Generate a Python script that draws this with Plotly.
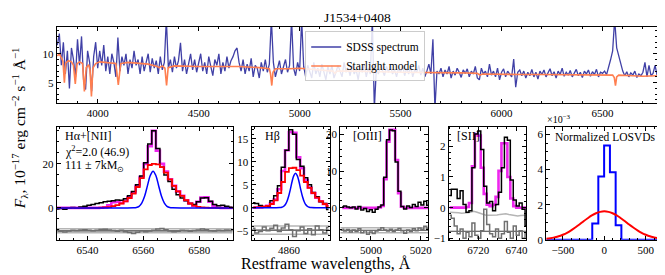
import plotly.graph_objects as go

W, H = 665, 275
FONT = "Liberation Serif"

# ---------------- data: top panel ----------------
spec_wave = list(range(3800, 6780, 10))
spec_flux = (
    [11.5, 13.5, 8.0, 12.0, 6.5, 10.5, 4.0, 11.0, 9.0, 6.0]
    + [12.5, 8.0, 13.0, 5.5, 3.8, 10.5, 8.5, 3.5, 9.5, 12.0]
    + [7.5, 10.5, 8.0, 11.5, 7.0, 9.5, 6.5, 10.0, 8.5, 6.0]
    + [12.8, 7.0, 9.5, 8.0, 10.0, 6.5, 9.0, 7.5, 10.5, 8.0]
    + [9.0, 6.5, 9.5, 7.0, 8.5, 10.0, 6.8, 9.2, 7.5, 8.8]
    + [6.5, 9.5, 7.2, 8.5, 16.0, 7.5, 9.0, 6.8, 9.5, 7.5]
    + [8.8, 11.9, 7.0, 9.0, 6.5, 8.5, 10.0, 7.2, 9.0, 6.8]
    + [8.5, 10.0, 7.0, 8.5, 6.5, 9.5, 7.8, 6.2, 9.0, 8.0]
    + [10.0, 6.5, 8.5, 7.0, 9.5, 7.5, 8.8, 9.5, 10.5, 11.0]
    + [8.5, 7.0, 9.0, 6.5, 8.2, 7.0, 9.2, 6.0, 8.0, 7.5]
    + [5.8, 8.5, 7.0, 9.0, 6.8, 8.2, 16.0, 8.5, 6.0, 7.5]
    + [8.8, 6.5, 7.8, 9.0, 6.8, 8.0, 16.0, 7.5, 6.2, 8.5]
    + [7.0, 16.0, 7.8, 6.0, 8.0, 7.0, 5.8, 8.5, 6.5, 7.5]
    + [6.0, 8.2, 7.0, 5.5, 7.8, 6.5, 8.0, 5.8, 6.8, 8.0]
    + [7.0, 6.0, 8.5, 6.8, 7.5, 6.2, 8.0, 6.5, 7.2, 5.5]
    + [7.8, 6.8, 8.2, 6.0, 7.5, 6.5, 16.0, 0.5, 7.5, 6.5]
    + [8.0, 7.0, 6.2, 7.8, 6.8, 8.0, 6.5, 7.2, 6.0, 7.5]
    + [6.8, 8.0, 6.2, 7.5, 6.5, 7.8, 6.0, 7.2, 6.8, 8.0]
    + [6.3, 7.5, 6.0, 7.0, 8.2, 6.5, 12.5, 0.5, 7.0, 6.5]
    + [7.5, 6.0, 7.2, 6.5, 7.8, 5.8, 7.0, 6.3, 7.5, 6.8]
    + [5.9, 7.2, 6.6, 7.4, 6.0, 7.0, 6.5, 7.8, 5.8, 5.5]
    + [7.5, 6.5, 7.0, 6.0, 8.2, 6.3, 7.0, 6.0, 7.5, 5.5]
    + [6.8, 7.4, 6.0, 7.0, 6.5, 6.0, 9.1, 4.2, 6.8, 7.2]
    + [6.2, 7.0, 5.8, 6.8, 6.2, 7.3, 6.0, 6.8, 5.6, 7.0]
    + [6.4, 7.2, 6.0, 6.6, 7.4, 6.2, 6.9, 5.8, 7.0, 6.4]
    + [7.5, 6.1, 6.8, 6.3, 7.1, 6.0, 6.7, 7.3, 6.2, 6.8]
    + [5.9, 7.0, 6.5, 7.2, 6.1, 6.9, 6.4, 7.3, 6.0, 6.8]
    + [6.6, 7.0, 6.4, 8.0, 9.0, 10.5, 16.0, 11.0, 9.5, 8.0]
    + [7.0, 6.2, 6.9, 6.0, 6.7, 6.3, 7.0, 5.9, 6.5, 6.2]
    + [6.8, 8.5, 6.0, 8.0, 6.2, 6.6, 8.0, 6.3]
)
model_wave = [3800, 3810, 3820, 3828, 3835, 3842, 3855, 3870, 3880, 3889,
              3898, 3910, 3925, 3934, 3943, 3955, 3962, 3969, 3976, 3990,
              4010, 4050, 4090, 4102, 4114, 4150, 4200, 4250, 4295, 4305,
              4320, 4333, 4341, 4349, 4380, 4450, 4500, 4600, 4700, 4800,
              4850, 4856, 4862, 4868, 4880, 4950, 5000, 5100, 5165, 5175,
              5185, 5270, 5300, 5400, 5500, 5600, 5700, 5800, 5880, 5893,
              5905, 6000, 6100, 6200, 6300, 6400, 6500, 6550, 6558, 6564,
              6570, 6580, 6650, 6700, 6770]
model_flux = [9.6, 10.0, 9.3, 8.7, 5.0, 8.4, 8.8, 8.6, 8.0, 4.8,
              8.3, 8.6, 8.3, 3.5, 7.6, 8.1, 7.2, 2.6, 7.5, 8.3,
              8.6, 8.5, 8.3, 4.6, 8.3, 8.5, 8.4, 8.2, 7.8, 7.6,
              7.9, 7.5, 4.5, 7.6, 7.9, 7.8, 7.8, 7.8, 7.8, 7.6,
              7.4, 6.5, 4.5, 6.8, 7.4, 7.4, 7.5, 7.2, 7.0, 6.6,
              7.0, 7.0, 7.0, 6.9, 6.8, 6.8, 6.7, 6.7, 6.6, 6.3,
              6.5, 6.4, 6.4, 6.4, 6.4, 6.4, 6.4, 6.3, 5.9, 4.5,
              6.0, 6.3, 6.2, 6.1, 6.2]

# ---------------- data: H-alpha + [NII] ----------------
ha_wave = [6529.0, 6530.5, 6531.9, 6533.4, 6534.8, 6536.2, 6537.7, 6539.1, 6540.6, 6542.0,
           6543.5, 6544.9, 6546.4, 6547.8, 6549.3, 6550.7, 6552.2, 6553.6, 6555.1, 6556.5,
           6558.0, 6559.4, 6560.9, 6562.3, 6563.8, 6565.2, 6566.7, 6568.1, 6569.6, 6571.0,
           6572.5, 6573.9, 6575.4, 6576.8, 6578.3, 6579.7, 6581.2, 6582.6, 6584.1, 6585.5,
           6587.0, 6588.4, 6589.9, 6591.3, 6592.8]
ha_data = [-0.5, -0.3, -0.6, -0.2, 0.2, 0.0, 0.4, 0.8, 1.2, 1.5,
           2.0, 2.4, 2.8, 3.0, 3.2, 3.6, 3.5, 4.2, 5.5, 7.5,
           10.5, 14.5, 20.5, 29.0, 35.0, 27.0, 18.5, 15.0, 12.0, 8.5,
           6.0, 4.5, 3.2, 2.0, 1.5, 2.8, 4.5, 4.6, 3.0, 1.6,
           1.0, 1.2, 0.8, 0.3, 0.0]
ha_total = [0.0, 0.0, 0.0, 0.0, 0.0, 0.0, 0.0, 0.0, 0.0, 0.0,
            0.0, 0.1, 0.3, 1.2, 2.6, 2.8, 2.2, 3.2, 4.8, 7.0,
            10.0, 14.0, 20.0, 28.0, 35.0, 26.0, 20.0, 16.5, 13.0, 10.0,
            7.5, 5.5, 3.5, 2.0, 1.0, 2.8, 4.7, 4.8, 2.8, 0.8,
            0.1, 0.0, 0.0, 0.0, 0.0]
ha_broad = [0.0, 0.0, 0.0, 0.0, 0.0, 0.0, 0.0, 0.0, 0.0, 0.0,
            0.0, 0.1, 0.2, 0.4, 0.8, 1.3, 2.0, 3.0, 4.5, 6.5,
            9.5, 13.5, 17.5, 19.5, 20.0, 19.8, 18.5, 16.0, 13.0, 10.0,
            7.5, 5.5, 3.5, 2.0, 1.0, 0.5, 0.2, 0.1, 0.0, 0.0,
            0.0, 0.0, 0.0, 0.0, 0.0]
ha_comp_wave = [6528, 6556.5, 6557.5, 6558.5, 6559.5, 6560.5, 6561.5, 6562.5, 6563.5,
                6564.5, 6565.5, 6566.5, 6567.5, 6568.5, 6569.5, 6570.5, 6593]
ha_comp = [0.0, 0.04, 0.18, 0.73, 2.3, 5.4, 10.1, 14.7, 16.7,
           14.7, 10.1, 5.4, 2.3, 0.73, 0.18, 0.04, 0.0]
ha_resid = [-10.2, -10.6, -10.9, -10.5, -10.1, -10.3, -10.0, -9.9, -10.2, -10.4,
            -10.1, -9.8, -9.7, -10.0, -10.3, -10.6, -10.2, -10.8, -11.2, -11.6,
            -11.0, -10.4, -10.8, -10.5, -10.2, -9.6, -9.4, -9.9, -10.5, -10.8,
            -10.6, -10.1, -10.3, -10.6, -10.3, -10.0, -9.6, -9.9, -10.4, -10.5,
            -10.2, -10.3, -10.0, -10.1, -10.3]
ha_res_zero, ha_res_sig = -10.4, 0.9

# ---------------- data: H-beta ----------------
hb_wave = [4849.5, 4850.6, 4851.7, 4852.8, 4853.9, 4855.0, 4856.1, 4857.2, 4858.3, 4859.4,
           4860.5, 4861.6, 4862.7, 4863.8, 4864.9, 4866.0, 4867.1, 4868.2, 4869.3, 4870.4,
           4871.5]
hb_data = [1.1, 0.9, 0.5, 0.1, 0.3, 1.5, 2.6, 4.8, 8.8, 12.5,
           17.0, 16.0, 10.5, 9.0, 6.5, 5.0, 3.3, 2.4, 1.3, 0.9, -0.4]
hb_total = [0.0, 0.05, 0.1, 0.2, 0.4, 0.9, 1.8, 4.0, 8.0, 12.5,
            16.5, 16.3, 11.0, 8.6, 6.0, 4.4, 3.2, 2.2, 1.4, 0.8, 0.4]
hb_broad = [0.0, 0.05, 0.1, 0.2, 0.4, 0.8, 1.6, 3.2, 5.6, 7.8,
            8.6, 8.7, 8.2, 7.0, 5.6, 4.3, 3.2, 2.2, 1.4, 0.8, 0.4]
hb_comp_wave = [4849, 4857.4, 4857.9, 4858.4, 4858.9, 4859.4, 4859.9, 4860.4, 4860.9, 4861.4,
                4861.9, 4862.4, 4862.9, 4863.4, 4863.9, 4864.4, 4864.9, 4865.4, 4865.9, 4866.4, 4872]
hb_comp = [0.0, 0.02, 0.09, 0.26, 0.63, 1.35, 2.5, 4.0, 5.7, 7.0,
           7.5, 7.0, 5.7, 4.0, 2.5, 1.35, 0.63, 0.26, 0.09, 0.02, 0.0]
hb_resid = [-4.5, -5.5, -5.2, -4.2, -5.0, -4.5, -3.8, -5.2, -4.4, -3.6,
            -4.8, -6.3, -5.0, -4.2, -5.6, -4.6, -5.9, -4.0, -4.8, -5.5, -4.3]
hb_res_zero, hb_res_sig = -4.9, 0.9

# ---------------- data: [OIII] ----------------
o3_wave = [4988.5, 4989.6, 4990.8, 4991.9, 4993.1, 4994.2, 4995.4, 4996.5, 4997.7, 4998.8,
           5000.0, 5001.1, 5002.3, 5003.4, 5004.6, 5005.7, 5006.9, 5008.0, 5009.2, 5010.3,
           5011.5, 5012.6, 5013.8, 5014.9, 5016.1, 5017.2, 5018.4, 5019.5, 5020.7, 5021.8,
           5023.0]
o3_data = [0.3, 0.5, 0.2, 0.0, 0.2, -0.3, 0.4, -0.6, -0.2, -1.0,
           -0.5, -1.2, -0.4, 0.2, 0.8, 8.3, 18.5, 21.2, 21.0, 12.5,
           4.5, 0.4, -0.3, 0.5, 0.1, 0.9, 0.4, 1.5, 0.8, 1.8, 0.7]
o3_total = [0.0, 0.0, 0.0, 0.0, 0.0, 0.0, 0.0, 0.0, 0.0, 0.0,
            0.0, 0.0, 0.0, 0.1, 0.5, 7.8, 18.0, 21.2, 21.2, 13.0,
            4.0, 0.3, 0.0, 0.0, 0.0, 0.0, 0.0, 0.0, 0.0, 0.0, 0.0]
o3_resid = [-5.8, -6.3, -5.9, -6.6, -6.0, -6.4, -5.7, -6.8, -6.2, -7.2,
            -6.6, -7.0, -6.3, -5.9, -5.4, -6.0, -6.3, -5.8, -6.4, -6.0,
            -5.6, -6.2, -6.9, -6.0, -6.4, -5.7, -6.2, -5.5, -5.8, -5.0, -5.6]
o3_res_zero, o3_res_sig = -6.1, 0.7

# ---------------- data: [SII] ----------------
s2_wave = [6705.0, 6706.55, 6708.1, 6709.65, 6711.2, 6712.75, 6714.3, 6715.85, 6717.4, 6718.95,
           6720.5, 6722.05, 6723.6, 6725.15, 6726.7, 6728.25, 6729.8, 6731.35, 6732.9, 6734.45,
           6736.0, 6737.55, 6739.1, 6740.65, 6742.2, 6743.75, 6745.3]
s2_data = [0.4, 0.6, 0.6, 0.3, 0.55, 0.1, -0.15, -0.1, 1.3, 2.4,
           2.5, 1.9, 0.7, 0.15, 0.2, -0.1, 0.1, 0.5, 1.3, 2.3,
           2.2, 0.9, 0.25, 0.05, 0.15, -0.05, -0.6]
s2_total = [0.0, 0.0, 0.0, 0.0, 0.0, 0.0, 0.02, 0.15, 1.35, 2.4,
            2.35, 1.3, 0.45, 0.1, 0.05, 0.1, 0.35, 1.2, 2.1, 2.1,
            1.0, 0.3, 0.05, 0.0, 0.0, 0.0, 0.0]
s2_resid = [-0.25, -0.35, -0.6, -0.85, -0.7, -1.0, -0.8, -0.95, -0.5, -0.9,
            -1.0, -0.75, -0.05, -0.55, -0.85, -0.95, -0.7, -1.0, -0.85, -0.45,
            -0.8, -1.0, -0.6, -0.9, -0.75, -1.0, -0.85]
s2_sig_upper = [-0.15, -0.15, -0.16, -0.17, -0.18, -0.18, -0.17, -0.15, -0.12, -0.14,
                -0.18, -0.22, -0.24, -0.25, -0.25, -0.25, -0.24, -0.22, -0.2, -0.2,
                -0.22, -0.24, -0.26, -0.27, -0.26, -0.25, -0.25]
s2_res_zero = -0.77

# ---------------- data: LOSVDs ----------------
losvd_edges = [-700, -145, -72, -2, 68, 137, 206, 700]
losvd_hist = [0.0, 0.93e-3, 3.6e-3, 5.36e-3, 3.84e-3, 0.83e-3, 0.0, 0.0]
losvd_v = [-700, -650, -600, -550, -500, -450, -400, -350, -300, -250, -200, -150, -100, -50, 0,
           50, 100, 150, 200, 250, 300, 350, 400, 450, 500, 550, 600, 650, 700]
losvd_gauss = [0.056e-3, 0.09e-3, 0.14e-3, 0.20e-3, 0.29e-3, 0.40e-3, 0.54e-3, 0.70e-3, 0.87e-3,
               1.06e-3, 1.23e-3, 1.39e-3, 1.51e-3, 1.59e-3, 1.62e-3, 1.59e-3, 1.51e-3, 1.39e-3,
               1.23e-3, 1.06e-3, 0.87e-3, 0.70e-3, 0.54e-3, 0.40e-3, 0.29e-3, 0.20e-3, 0.14e-3,
               0.09e-3, 0.056e-3]

# ---------------- layout helpers ----------------
def fx(px):
    return px / W


def fy(py):
    return 1 - py / H


BOT = [fy(237), fy(122)]
panels = {
    1: dict(xd=[fx(49), fx(653)], yd=[fy(97), fy(19)], xr=[3797, 6770], yr=[1.5, 14.7],
            xdt=500, xm=100, ydt=5, ym=1),
    2: dict(xd=[fx(49), fx(226)], yd=BOT, xr=[6529, 6592], yr=[-14.5, 36.6],
            xdt=20, xm=5, ydt=20, ym=5),
    3: dict(xd=[fx(245), fx(323.5)], yd=BOT, xr=[4849.1, 4871.8], yr=[-7, 17.5],
            xdt=20, xm=5, ydt=5, ym=1),
    4: dict(xd=[fx(334.3), fx(422.7)], yd=BOT, xr=[4987.7, 5023], yr=[-8.7, 21.9],
            xdt=20, xm=5, ydt=10, ym=2),
    5: dict(xd=[fx(443.3), fx(521.5)], yd=BOT, xr=[6704.4, 6745.2], yr=[-1.05, 2.62],
            xdt=20, xm=5, ydt=1, ym=0.2),
    6: dict(xd=[fx(541.5), fx(658.3)], yd=BOT, xr=[-700, 700], yr=[0, 0.0064],
            xdt=500, xm=100, ydt=0.002, ym=0.0005),
}

TICK_SIZE = 11
layout = dict(width=W, height=H, margin=dict(l=0, r=0, t=0, b=0),
              paper_bgcolor="white", plot_bgcolor="white",
              font=dict(family=FONT, size=TICK_SIZE, color="black"))


def axis(domain, rng, dtick, mdt, anchor):
    return dict(domain=domain, range=rng, anchor=anchor, showline=True, linecolor="black",
                linewidth=1, mirror="allticks", ticks="inside", ticklen=4, tickwidth=1,
                tickcolor="black", showgrid=False, zeroline=False, dtick=dtick,
                tickfont=dict(family=FONT, size=TICK_SIZE, color="black"),
                minor=dict(ticks="inside", ticklen=2, tickwidth=0.8, tickcolor="black",
                           dtick=mdt, showgrid=False))


for k, p in panels.items():
    s = "" if k == 1 else str(k)
    layout["xaxis" + s] = axis(p["xd"], p["xr"], p["xdt"], p["xm"], "y" + s)
    layout["yaxis" + s] = axis(p["yd"], p["yr"], p["ydt"], p["ym"], "x" + s)

layout["yaxis6"].update(tickmode="array", tickvals=[0, 0.002, 0.004, 0.006],
                        ticktext=["0", "2", "4", "6"])
layout["yaxis6"]["minor"].update(tickmode="linear", tick0=0)

fig = go.Figure()


def add(x, y, k, color, width, shape="hvh", name=None, legend=False):
    s = "" if k == 1 else str(k)
    fig.add_trace(go.Scatter(x=x, y=y, mode="lines", name=name, showlegend=legend,
                             line=dict(color=color, width=width, shape=shape),
                             xaxis="x" + s, yaxis="y" + s, hoverinfo="skip"))


# top panel
add(spec_wave, spec_flux, 1, "rgba(30,30,150,0.85)", 1.3, "linear", "SDSS spectrum", True)
add(model_wave, model_flux, 1, "rgb(255,127,80)", 1.6, "linear", "Starlight model", True)

MAG = "rgba(235,0,235,0.85)"
LG, DG, RG = "#b5b5b5", "#404040", "#707070"


def residual_block(k, wave, resid, zero, sig_up=None, sig=None):
    xr = panels[k]["xr"]
    if sig_up is not None:
        add(wave, sig_up, k, LG, 1.5, "linear")
    else:
        add(xr, [zero + sig, zero + sig], k, LG, 1.5, "linear")
        add(xr, [zero - sig, zero - sig], k, LG, 1.5, "linear")
    add(xr, [zero, zero], k, DG, 1.2, "linear")
    add(wave, resid, k, RG, 1.5)


# H-alpha
residual_block(2, ha_wave, ha_resid, ha_res_zero, sig=ha_res_sig)
add(ha_wave, ha_total, 2, MAG, 2.6)
add(ha_wave, ha_data, 2, "black", 1.5)
add(ha_wave, ha_broad, 2, "red", 1.8)
add(ha_comp_wave, ha_comp, 2, "blue", 1.5, "spline")

# H-beta
residual_block(3, hb_wave, hb_resid, hb_res_zero, sig=hb_res_sig)
add(hb_wave, hb_total, 3, MAG, 2.6)
add(hb_wave, hb_data, 3, "black", 1.5)
add(hb_wave, hb_broad, 3, "red", 1.8)
add(hb_comp_wave, hb_comp, 3, "blue", 1.5, "spline")

# [OIII]
residual_block(4, o3_wave, o3_resid, o3_res_zero, sig=o3_res_sig)
add(o3_wave, o3_total, 4, MAG, 2.6)
add(o3_wave, o3_data, 4, "black", 1.5)

# [SII]
residual_block(5, s2_wave, s2_resid, s2_res_zero, sig_up=s2_sig_upper)
add(s2_wave, s2_total, 5, MAG, 2.6)
add(s2_wave, s2_data, 5, "black", 1.5)

# LOSVDs
add(losvd_edges, losvd_hist, 6, "blue", 2, "hv")
add(losvd_v, losvd_gauss, 6, "red", 2, "spline")

layout["legend"] = dict(x=fx(299), y=fy(24), xanchor="left", yanchor="top",
                        bgcolor="rgba(255,255,255,0.85)", bordercolor="#cccccc", borderwidth=1,
                        font=dict(family=FONT, size=11.5, color="black"), itemwidth=30,
                        tracegroupgap=0)


def note(text, px, py, size=12, xanchor="left", angle=0):
    return dict(text=text, x=fx(px), y=fy(py), xref="paper", yref="paper", showarrow=False,
                xanchor=xanchor, yanchor="middle", textangle=angle,
                font=dict(family=FONT, size=size, color="black"))


layout["annotations"] = [
    note("J1534+0408", 352, 10, 13.5, "center"),
    note("Hα+[NII]", 55, 131),
    note("χ<sup>2</sup>=2.0 (46.9)", 55, 147),
    note("111 ± 7kM<sub>⊙</sub>", 55, 162),
    note("Hβ", 257, 131),
    note("[OIII]", 345, 131),
    note("[SII]", 450, 131),
    note("Normalized LOSVDs", 601, 132, 11.5, "center"),
    note("×10<sup>−3</sup>", 540, 113, 10),
    note("Restframe wavelengths, Å", 320, 262, 16, "center"),
    note("<i>F</i><sub>λ</sub>, 10<sup>−17</sup> erg cm<sup>−2</sup> s<sup>−1</sup> Å<sup>−1</sup>",
         12, 123, 15.5, "center", -90),
]

fig.update_layout(**layout)
fig.write_html("out.html")
